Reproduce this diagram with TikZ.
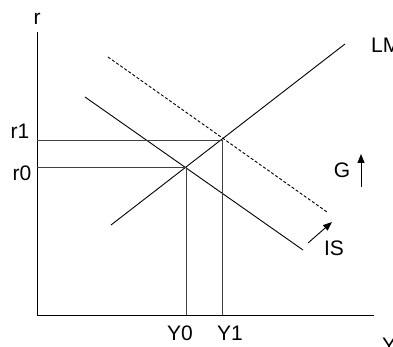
\documentclass[tikz,border=0pt]{standalone}
\usepackage{fontspec}
\setmainfont{Liberation Sans}
\usetikzlibrary{arrows.meta}
\begin{document}
\begin{tikzpicture}[x=1pt,y=-1pt,
  curve/.style={line width=0.9pt},
  guide/.style={line width=0.6pt, black!75},
  lbl/.style={font=\fontsize{21}{21}\selectfont, inner sep=0pt},
  shiftarrow/.style={line width=0.9pt, -{Triangle[length=9pt,width=7pt]}}]
\useasboundingbox (0,0) rectangle (393,347);
% axes
\coordinate (O) at (37,315);
\coordinate (ytop) at (37,32);
\coordinate (xend) at (374,315);
\draw[curve] (ytop) -- (O) -- (xend);
\node[lbl] (r) at (37,19) {r};
\node[lbl, anchor=base west] (Y) at (382,352) {Y};
% curves
\coordinate (LMa) at (111,225);
\coordinate (LMb) at (345,44);
\draw[curve] (LMa) -- (LMb);
\node[lbl, anchor=west] (LM) at (371,45) {LM};
\coordinate (ISa) at (85,97);
\coordinate (ISb) at (303,250);
\draw[curve] (ISa) -- (ISb);
\node[lbl] (IS) at (334,248) {IS};
\coordinate (ISpa) at (108,57);
\coordinate (ISpb) at (327,212);
\draw[curve, dash pattern=on 3pt off 2pt] (ISpa) -- (ISpb);
% equilibria
\coordinate (E0) at (186,167);
\coordinate (E1) at (222,140);
\coordinate (r0ax) at (37,167);
\coordinate (r1ax) at (37,140);
\coordinate (Y0ax) at (186,315);
\coordinate (Y1ax) at (222,315);
\draw[guide] (r1ax) -- (E1) -- (Y1ax);
\draw[guide] (r0ax) -- (E0) -- (Y0ax);
\node[lbl] (r1) at (20,131) {r1};
\node[lbl] (r0) at (22,173) {r0};
\node[lbl] (Y0) at (180,333) {Y0};
\node[lbl] (Y1) at (230,333) {Y1};
% shift arrows
\node[lbl] (G) at (342,170) {G};
\coordinate (Ga) at (361,187);
\coordinate (Gb) at (361,154);
\draw[shiftarrow] (Ga) -- (Gb);
\coordinate (Sa) at (308,243);
\coordinate (Sb) at (332,222);
\draw[shiftarrow] (Sa) -- (Sb);
\end{tikzpicture}
\end{document}
